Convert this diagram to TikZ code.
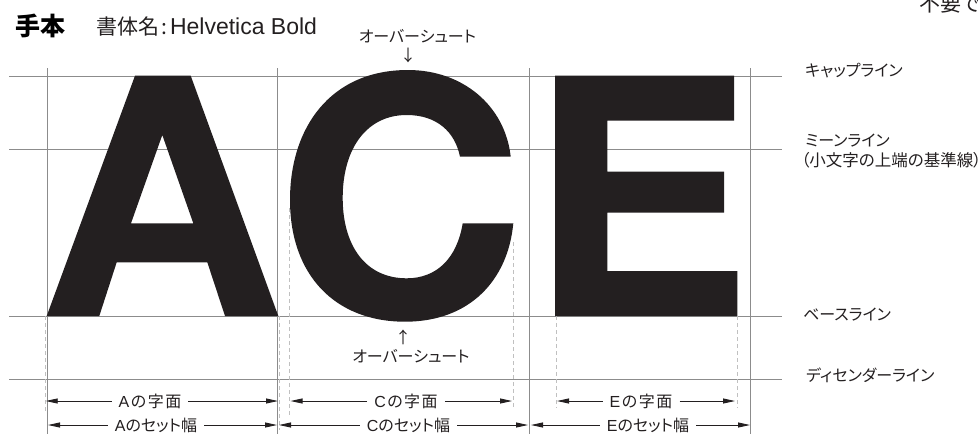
\documentclass[tikz,border=0pt]{standalone}
\usepackage{fontspec}
\setmainfont{Noto Sans CJK JP}[RawFeature=+palt]
\newfontfamily\lat{Liberation Sans}
\usetikzlibrary{arrows.meta}
\definecolor{ink}{RGB}{35,31,32}
\definecolor{guide}{RGB}{140,140,140}
\definecolor{dashc}{RGB}{192,192,192}
\begin{document}
\begin{tikzpicture}[x=1pt,y=-1pt,
  guideline/.style={draw=guide,line width=0.9pt},
  glyphline/.style={draw=dashc,line width=1pt,dash pattern=on 4pt off 3pt},
  glyph/.style={fill=ink,draw=none,even odd rule},
  lbl/.style={inner sep=0pt,text=ink,font=\fontsize{16}{18}\selectfont},
  dimlbl/.style={lbl,inner xsep=7pt},
  dimarrow/.style={draw=ink,line width=0.9pt,-{Triangle[length=12pt,width=5pt]}},
]
\useasboundingbox (0,0) rectangle (978,434);
\clip (0,0) rectangle (978,434);

% ---------- horizontal guide lines ----------
\coordinate (capL) at (9,76);   \coordinate (capR) at (782,76);
\coordinate (meanL) at (9,149); \coordinate (meanR) at (782,149);
\coordinate (baseL) at (9,316); \coordinate (baseR) at (782,316);
\coordinate (descL) at (9,379); \coordinate (descR) at (782,379);
\draw[guideline] (capL) -- (capR);
\draw[guideline] (meanL) -- (meanR);
\draw[guideline] (baseL) -- (baseR);
\draw[guideline] (descL) -- (descR);

% ---------- vertical set-width lines ----------
\coordinate (v1t) at (47,68);    \coordinate (v1b) at (47,434);
\coordinate (v2t) at (277.3,68); \coordinate (v2b) at (277.3,434);
\coordinate (v3t) at (529.3,68); \coordinate (v3b) at (529.3,434);
\coordinate (v4t) at (750.7,68); \coordinate (v4b) at (750.7,434);
\draw[guideline] (v1t) -- (v1b);
\draw[guideline] (v2t) -- (v2b);
\draw[guideline] (v3t) -- (v3b);
\draw[guideline] (v4t) -- (v4b);

% ---------- glyph extent dashed lines ----------
\draw[glyphline] (45,316) -- (45,411);
\draw[glyphline] (279.3,316) -- (279.3,430);
\draw[glyphline] (289.3,208) -- (289.3,415);
\draw[glyphline] (513.3,242) -- (513.3,407);
\draw[glyphline] (556,316) -- (556,408);
\draw[glyphline] (737.3,316) -- (737.3,408);

% ---------- glyph A ----------
\fill[glyph] (46.7,316) -- (135,75.7) -- (190.7,75.7) -- (278.3,316) -- (225,316)
  -- (207.3,262.3) -- (116.7,262.3) -- (99.3,316) -- cycle
  (131,223.3) -- (162.3,135) -- (193.3,223.3) -- cycle;

% ---------- glyph C ----------
\fill[glyph] (510.7,156.7) .. controls (505,105) and (462,70) .. (408,70)
  .. controls (330,70) and (290,128) .. (290,200)
  .. controls (290,275) and (335,321.7) .. (405,321.7)
  .. controls (470,321.7) and (508,280) .. (513.3,223.3)
  -- (462.7,223.3)
  .. controls (457,258) and (437,278.3) .. (406.7,278.3)
  .. controls (365,278.3) and (342.7,245) .. (342.7,198)
  .. controls (342.7,148) and (367,115) .. (406.7,115)
  .. controls (437,115) and (455,132) .. (460,156.7)
  -- cycle;

% ---------- glyph E ----------
\fill[glyph] (555,75.7) -- (734,75.7) -- (734,120.7) -- (607.3,120.7) -- (607.3,171.7)
  -- (724,171.7) -- (724,212.7) -- (607.3,212.7) -- (607.3,271) -- (737.3,271)
  -- (737.3,316) -- (555,316) -- cycle;

% ---------- titles ----------
\node[inner sep=0pt,anchor=west,text=black,font=\fontsize{25}{28}\selectfont\bfseries] (title) at (15,26) {手本};
\node[inner sep=0pt,anchor=west,text=ink,font=\fontsize{21}{24}\selectfont] (fontname) at (96,27) {書体名\kern2.5pt:\kern2.5pt{\lat\fontsize{23}{25}\selectfont Helvetica Bold}};
\node[inner sep=0pt,anchor=west,text=ink,font=\fontsize{21}{24}\selectfont] (cutnote) at (919,4) {不要で};

% ---------- overshoot labels ----------
\node[lbl] (osTop) at (417.5,36) {オーバーシュート};
\node[lbl] (osTopArr) at (408,55) {↓};
\node[lbl] (osBotArr) at (403,337) {↑};
\node[lbl] (osBot) at (411,356) {オーバーシュート};

% ---------- line names ----------
\node[lbl,anchor=west] (capLbl) at (805,71) {キャップライン};
\node[lbl,anchor=west] (meanLbl) at (805,141) {ミーンライン};
\node[lbl,anchor=west,font=\fontsize{16.5}{18}\selectfont] (meanNote) at (801,160) {（小文字の上端の基準線）};
\node[lbl,anchor=west] (baseLbl) at (803,315) {ベースライン};
\node[lbl,anchor=west] (descLbl) at (806,375) {ディセンダーライン};

% ---------- dimension arrows: row 1 (字面) ----------
\coordinate (a1L) at (45.7,401); \coordinate (a1R) at (278,401);
\coordinate (c1L) at (290.5,401); \coordinate (c1R) at (512,401);
\coordinate (e1L) at (557,401); \coordinate (e1R) at (735,401);
\node[dimlbl] (a1) at (150,401) {{\lat A}\kern1.5pt の\kern1.5pt 字\kern1.5pt 面};
\node[dimlbl] (c1) at (406,401) {{\lat C}\kern1.5pt の\kern1.5pt 字\kern1.5pt 面};
\node[dimlbl] (e1) at (641,401) {{\lat E}\kern1.5pt の\kern1.5pt 字\kern1.5pt 面};
\draw[dimarrow] (a1.west) -- (a1L);
\draw[dimarrow] (a1.east) -- (a1R);
\draw[dimarrow] (c1.west) -- (c1L);
\draw[dimarrow] (c1.east) -- (c1R);
\draw[dimarrow] (e1.west) -- (e1L);
\draw[dimarrow] (e1.east) -- (e1R);

% ---------- dimension arrows: row 2 (セット幅) ----------
\coordinate (a2L) at (48,425); \coordinate (a2R) at (277,425);
\coordinate (c2L) at (279,425); \coordinate (c2R) at (528,425);
\coordinate (e2L) at (531,425); \coordinate (e2R) at (750,425);
\node[dimlbl] (a2) at (156,425) {{\lat A}のセット幅};
\node[dimlbl] (c2) at (408.5,425) {{\lat C}のセット幅};
\node[dimlbl] (e2) at (648,425) {{\lat E}のセット幅};
\draw[dimarrow] (a2.west) -- (a2L);
\draw[dimarrow] (a2.east) -- (a2R);
\draw[dimarrow] (c2.west) -- (c2L);
\draw[dimarrow] (c2.east) -- (c2R);
\draw[dimarrow] (e2.west) -- (e2L);
\draw[dimarrow] (e2.east) -- (e2R);
\end{tikzpicture}
\end{document}
